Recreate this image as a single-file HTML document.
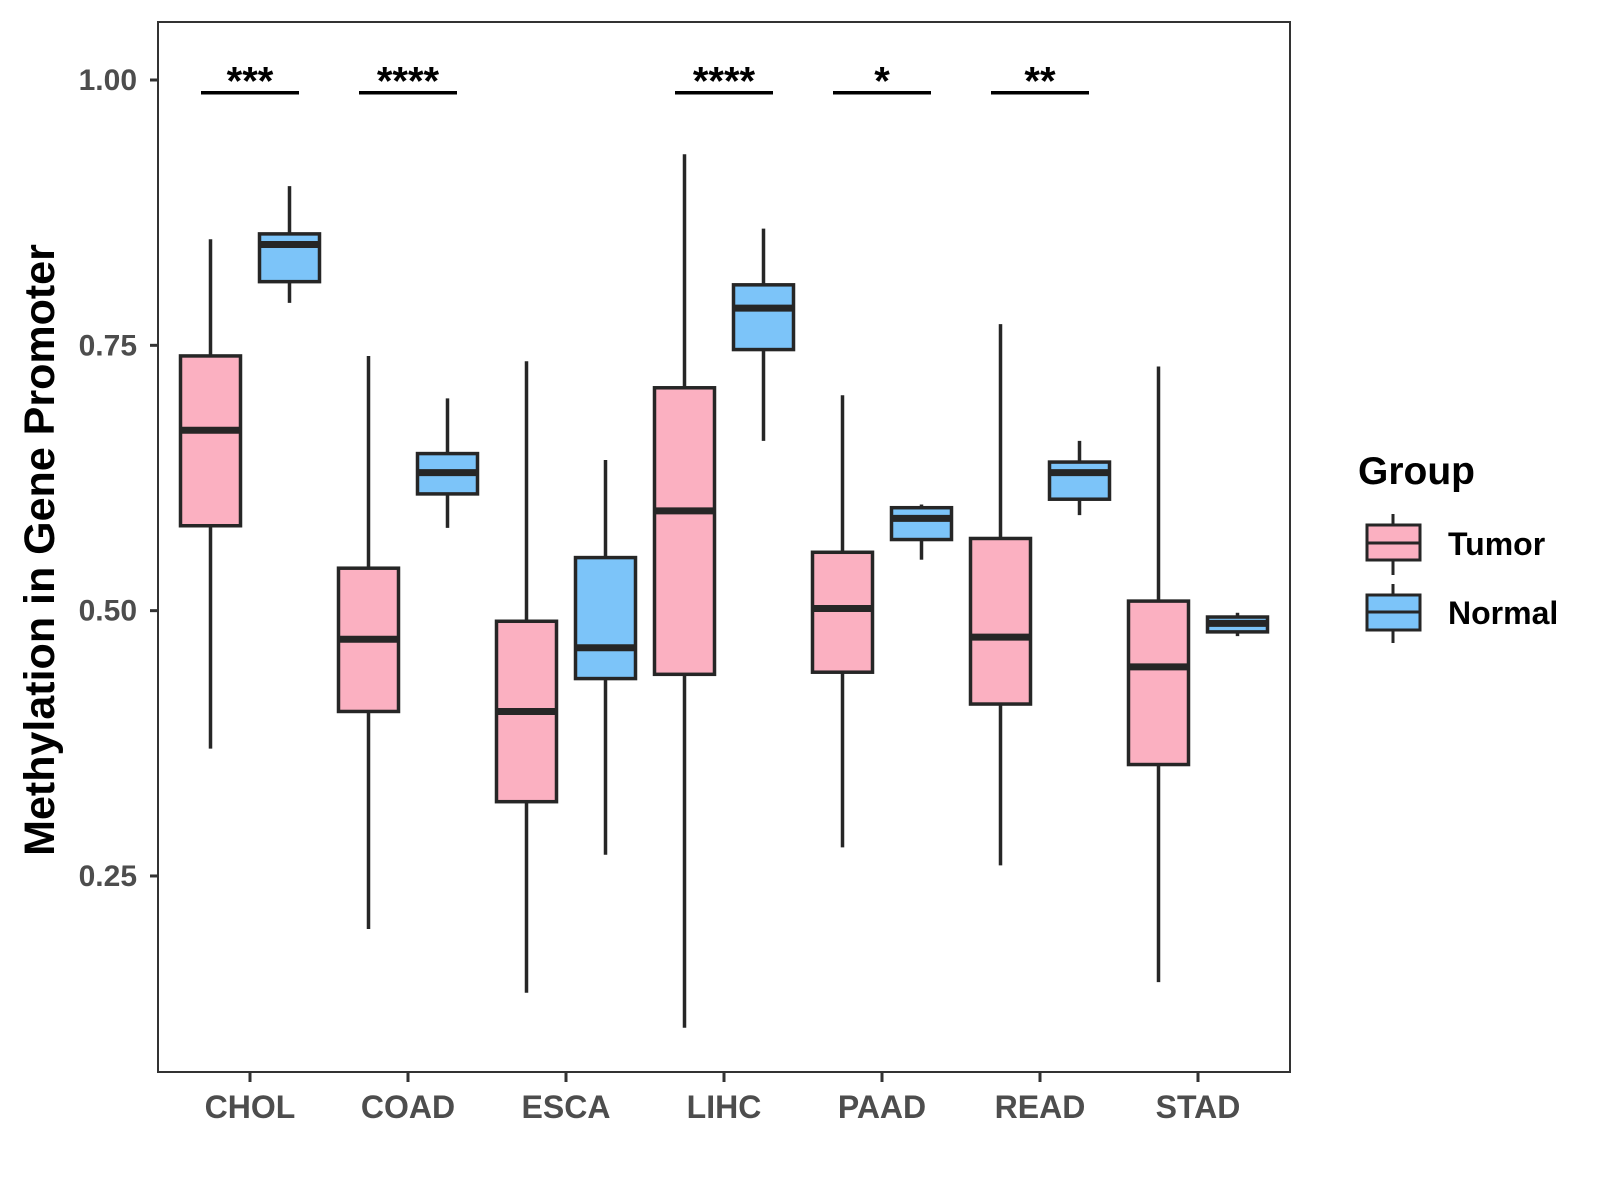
<!DOCTYPE html>
<html><head><meta charset="utf-8"><style>
html,body{margin:0;padding:0;background:#fff;}
svg{display:block;font-family:"Liberation Sans",Arial,sans-serif;}
</style></head><body>
<svg id="chart" width="1600" height="1200" viewBox="0 0 1600 1200">
<rect x="0" y="0" width="1600" height="1200" fill="#fff"/>
<g id="plot"></g>
<text transform="translate(54,550) rotate(-90)" text-anchor="middle" font-size="43" font-weight="bold" fill="#000">Methylation in Gene Promoter</text>
<g>
<text x="1358" y="484" font-size="39" font-weight="bold" fill="#000">Group</text>
<g>
<line x1="1393" y1="514" x2="1393" y2="575" stroke="#262626" stroke-width="3"/>
<rect x="1367" y="525" width="53" height="35" fill="#fbb0c1" stroke="#262626" stroke-width="3"/>
<line x1="1367" y1="543" x2="1420" y2="543" stroke="#262626" stroke-width="3"/>
<text x="1448" y="555" font-size="32" font-weight="bold" fill="#000">Tumor</text>
</g>
<g>
<line x1="1393" y1="584" x2="1393" y2="643" stroke="#262626" stroke-width="3"/>
<rect x="1367" y="595" width="53" height="35" fill="#7cc4f9" stroke="#262626" stroke-width="3"/>
<line x1="1367" y1="612" x2="1420" y2="612" stroke="#262626" stroke-width="3"/>
<text x="1448" y="624" font-size="32" font-weight="bold" fill="#000">Normal</text>
</g>
</g>
</svg>
<script>
const categories = ["CHOL","COAD","ESCA","LIHC","PAAD","READ","STAD"];
// [lowerWhisker, q1, median, q3, upperWhisker]
const tumorStats = [
 [0.37,0.58,0.67,0.74,0.85],
 [0.20,0.405,0.473,0.54,0.74],
 [0.14,0.32,0.405,0.49,0.735],
 [0.107,0.44,0.594,0.71,0.93],
 [0.277,0.442,0.502,0.555,0.703],
 [0.26,0.412,0.475,0.568,0.77],
 [0.15,0.355,0.447,0.509,0.73]
];
const normalStats = [
 [0.79,0.81,0.845,0.855,0.90],
 [0.578,0.61,0.63,0.648,0.70],
 [0.27,0.436,0.465,0.55,0.642],
 [0.66,0.746,0.785,0.807,0.86],
 [0.548,0.567,0.587,0.597,0.60],
 [0.59,0.605,0.63,0.64,0.66],
 [0.476,0.48,0.488,0.494,0.498]
];
const sigLabels = ["***","****","","****","*","**",""];
const yTicks = [0.25,0.50,0.75,1.00];
const yTickLabels = ["0.25","0.50","0.75","1.00"];
const sigLevel = 0.988;

const L=158,R=1290,T=22,B=1072;
function yScale(v){return 80+(1-v)*1061.3;}
function xScale(i){return 250+i*158;}
const NS="http://www.w3.org/2000/svg";
const g=document.getElementById('plot');
function mk(tag,attrs,parent){const e=document.createElementNS(NS,tag);for(const k in attrs)e.setAttribute(k,attrs[k]);(parent||g).appendChild(e);return e;}

yTicks.forEach((v,i)=>{
  const y=yScale(v);
  const t=mk('line',{x1:L-8,x2:L,y1:y,y2:y,stroke:'#333','stroke-width':3});
  
  
  const tx=mk('text',{x:L-21,y:y+10,'text-anchor':'end','font-size':30,'font-weight':'bold',fill:'#4d4d4d'});
  tx.textContent=yTickLabels[i];
  
  
});
categories.forEach((c,i)=>{
  const x=xScale(i);
  const t=mk('line',{x1:x,x2:x,y1:B,y2:B+10,stroke:'#333','stroke-width':3});
  
  
  const tx=mk('text',{x:x,y:B+46,'text-anchor':'middle','font-size':32,'font-weight':'bold',fill:'#4d4d4d'});
  tx.textContent=c;
  
  
});
function box(s,cx,fill,name){
  const bg=mk('g',{});
  
  
  const w=60;
  mk('line',{x1:cx,x2:cx,y1:yScale(s[0]),y2:yScale(s[4]),stroke:'#262626','stroke-width':3.5},bg);
  mk('rect',{x:cx-w/2,y:yScale(s[3]),width:w,height:yScale(s[1])-yScale(s[3]),fill:fill,stroke:'#262626','stroke-width':3.5},bg);
  mk('line',{x1:cx-w/2,x2:cx+w/2,y1:yScale(s[2]),y2:yScale(s[2]),stroke:'#262626','stroke-width':7},bg);
}
categories.forEach((c,i)=>{
  box(tumorStats[i],xScale(i)-39.5,'#fbb0c1','box-tumor-'+c.toLowerCase());
  box(normalStats[i],xScale(i)+39.5,'#7cc4f9','box-normal-'+c.toLowerCase());
  if(sigLabels[i]){
    const y=yScale(sigLevel);
    const ln=mk('line',{x1:xScale(i)-49,x2:xScale(i)+49,y1:y,y2:y,stroke:'#000','stroke-width':3.5});
    
    
    const tx=mk('text',{x:xScale(i),y:y+2,'text-anchor':'middle','font-size':40,'font-weight':'bold',fill:'#000'});
    tx.textContent=sigLabels[i];
    
    
  }
});
const frame=mk('rect',{x:L,y:T,width:R-L,height:B-T,fill:'none',stroke:'#333','stroke-width':2});


</script>
</body></html>
